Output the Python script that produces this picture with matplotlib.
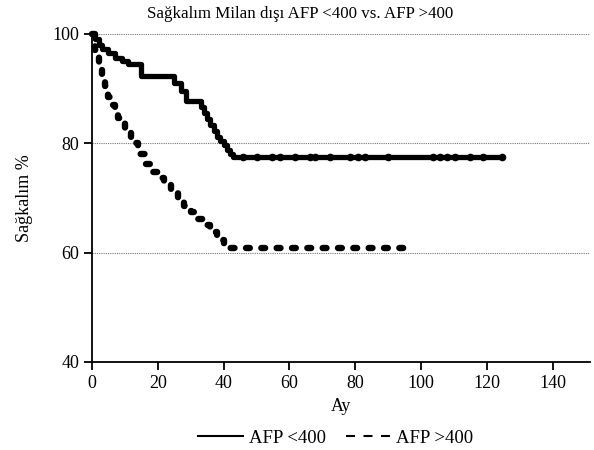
import matplotlib
matplotlib.use("Agg")
import matplotlib.pyplot as plt
from matplotlib.lines import Line2D

plt.rcParams['font.family'] = ['Liberation Serif', 'DejaVu Serif']

# --- data ---
title = "Sağkalım Milan dışı AFP <400 vs. AFP >400"
xlabel = "Ay"
ylabel = "Sağkalım %"
labels = ["AFP <400", "AFP >400"]

lt400_t = [0, 1, 2, 3, 5, 7, 9, 11, 15, 25, 27, 28.5, 33, 34, 35, 36, 37, 38, 39, 40, 41, 42, 43, 125]
lt400_s = [100, 99, 98, 97.3, 96.5, 95.7, 95, 94.6, 92.3, 91, 89.5, 87.7, 86.6, 85.5, 84.5, 83.4, 82.3, 81.2,
           80.4, 79.7, 78.8, 78, 77.5, 77.5]
lt400_censor = [45.9, 50.2, 54.7, 57.1, 61.7, 66.3, 67.8, 72.3, 78.4, 80.9, 83, 90, 103.6, 105.8, 107.9,
                110.3, 114.9, 118.8, 124.6]

gt400_t = [0, 1, 2, 3, 4, 5, 6, 7, 8, 10, 12, 14, 16, 18, 20, 22, 24, 26, 28, 30, 32, 34, 36, 38, 40, 41, 97]
gt400_s = [100, 97, 94.5, 92.2, 90.5, 88.5, 87, 86, 84.6, 82.2, 80, 78, 76.2, 74.8, 73.6, 72.3, 71, 69.8,
           68.6, 67.4, 66.1, 65, 63.8, 62.4, 61.5, 60.9, 60.9]

xticks = [0, 20, 40, 60, 80, 100, 120, 140]
yticks = [40, 60, 80, 100]

fig = plt.figure(figsize=(5.94, 4.5), dpi=100)
ax = fig.add_axes([92/594, 1-362/450, (590-92)/594, (362-34)/450])

ax.set_xlim(0, (590-92)/3.29)
ax.set_ylim(40, 100)

for y in [60, 80, 100]:
    ax.axhline(y, color='#777777', lw=0.8, ls=(0, (1, 1)), zorder=1)

ax.step(lt400_t, lt400_s, where='post', color='black', lw=3.8, solid_joinstyle='round',
        solid_capstyle='round', zorder=3, clip_on=False)
cens_y = [lt400_s[max(i for i, t in enumerate(lt400_t) if t <= c)] for c in lt400_censor]
ax.plot(lt400_censor, cens_y, ls='none', marker='o', ms=5.5, color='black', mew=0, zorder=3)

ax.step(gt400_t, gt400_s, where='post', color='black', lw=4.6, ls=(0, (0.6, 1.8)),
        dash_capstyle='round', zorder=3, clip_on=False)

ax.set_xticks(xticks)
ax.set_yticks(yticks)
ax.tick_params(direction='out', length=6, width=1.3, labelsize=13, colors='black', pad=3)
for s in ['top', 'right']:
    ax.spines[s].set_visible(False)
for s in ['left', 'bottom']:
    ax.spines[s].set_linewidth(1.3)

fig.text(300/594, 1-14/450, title, fontsize=12.2, ha='center', va='center')
ax.set_xlabel(xlabel, fontsize=13, labelpad=5)
ax.set_ylabel(ylabel, fontsize=13, labelpad=14)

handles = [Line2D([], [], color='black', lw=1.5),
           Line2D([], [], color='black', lw=1.5, ls=(0, (4.3, 4.1)))]
fig.legend(handles, labels, loc='center', bbox_to_anchor=(336/594, 1-438/450), ncol=2, frameon=False,
           fontsize=13.5, handlelength=2.35, columnspacing=1.05, handletextpad=0.35,
           borderpad=0, borderaxespad=0)

fig.savefig("out.png", dpi=100)
